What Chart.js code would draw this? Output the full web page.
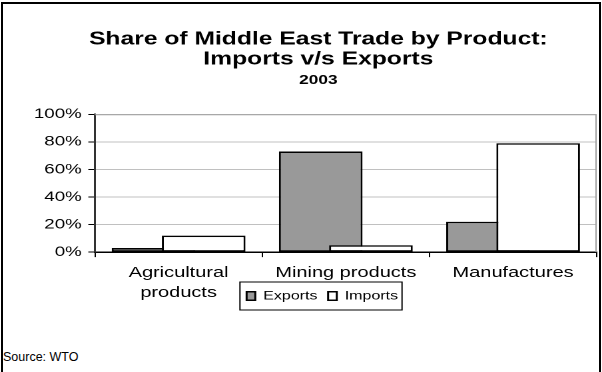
<!DOCTYPE html>
<html>
<head>
<meta charset="utf-8">
<script src="https://cdn.jsdelivr.net/npm/chart.js@4"></script>
<style>
  body { margin: 0; background: #fff; }
  #frame { position: absolute; left: 1px; top: 2px; width: 596px; height: 380px; border: 2px solid #000; }
  /* the chart is laid out narrow and widened, which gives the broad lettering */
  #box { position: absolute; left: 0; top: 0; width: 452px; height: 345px; transform: scaleX(1.3319); transform-origin: 0 0; }
  #src { position: absolute; left: 3px; top: 350px; font: 12.5px Arial, "Liberation Sans", sans-serif; color: #000; }
</style>
</head>
<body>
<div id="frame"></div>
<div id="box"><canvas id="trade"></canvas></div>
<div id="src">Source: WTO</div>
<script>
// share of Middle East trade, 2003 (percent)
var categories = [["Agricultural", "products"], "Mining products", "Manufactures"];
var exportsShare = [3, 73, 22];
var importsShare = [12, 5, 79];
var yTicks = [0, 20, 40, 60, 80, 100];

// exports sit left of the category centre, imports right, overlapping
var SHIFT = 0.15;
function place(values, dx) {
  return values.map(function (v, i) { return { x: i + dx, y: v }; });
}

Chart.defaults.font.family = 'Arial, "Liberation Sans", sans-serif';
Chart.defaults.color = '#000';

// gray outline on the top and right of the plot area
var plotFrame = {
  id: 'plotFrame',
  beforeDatasetsDraw: function (chart) {
    var a = chart.chartArea, ctx = chart.ctx;
    ctx.save();
    ctx.strokeStyle = '#a0a0a0';
    ctx.lineWidth = 1;
    ctx.beginPath();
    ctx.moveTo(a.left, a.top + 0.5);
    ctx.lineTo(a.right - 0.5, a.top + 0.5);
    ctx.lineTo(a.right - 0.5, a.bottom);
    ctx.stroke();
    ctx.restore();
  }
};

// titles and legend centred a little right of the canvas middle,
// legend tucked up beside the wrapped label and boxed
var TITLE_DX = 12.5;
var LEGEND_DX = 15.5;
var LEGEND_DY = -27;
var nudge = {
  id: 'nudge',
  afterUpdate: function (chart) {
    chart.boxes.forEach(function (b) {
      if (b.options && b.options.text !== undefined && !b.legendItems) {
        b.left += TITLE_DX;
        b.right += TITLE_DX;
      }
    });
    var lg = chart.legend;
    lg.left += LEGEND_DX;
    lg.right += LEGEND_DX;
    lg.top += LEGEND_DY;
    lg.bottom += LEGEND_DY;
    lg.legendHitBoxes.forEach(function (h) { h.left += LEGEND_DX; h.top += LEGEND_DY; });
  },
  afterDraw: function (chart) {
    var boxes = chart.legend.legendHitBoxes;
    if (!boxes || !boxes.length) return;
    var l = Infinity, t = Infinity, r = -Infinity, b = -Infinity;
    boxes.forEach(function (h) {
      l = Math.min(l, h.left); t = Math.min(t, h.top);
      r = Math.max(r, h.left + h.width); b = Math.max(b, h.top + h.height);
    });
    var ctx = chart.ctx;
    ctx.save();
    ctx.strokeStyle = '#000';
    ctx.lineWidth = 1;
    ctx.strokeRect(l - 5, t - 8, r - l + 8, b - t + 16);
    ctx.restore();
  }
};

new Chart(document.getElementById('trade'), {
  type: 'bar',
  data: {
    datasets: [{
      label: 'Exports',
      data: place(exportsShare, -SHIFT),
      backgroundColor: '#999999',
      borderColor: '#000',
      borderWidth: 1.5,
      borderSkipped: false,
      xAxisID: 'xb',
      order: 1
    }, {
      label: 'Imports',
      data: place(importsShare, SHIFT),
      backgroundColor: '#ffffff',
      borderColor: '#000',
      borderWidth: 1.5,
      borderSkipped: false,
      xAxisID: 'xb',
      order: 0
    }]
  },
  options: {
    responsive: true,
    maintainAspectRatio: false,
    animation: false,
    devicePixelRatio: 2,
    grouped: false,
    categoryPercentage: 1,
    barPercentage: 0.5 / (2 * SHIFT),
    layout: { padding: { left: 5, right: 4, top: 0, bottom: 6 } },
    plugins: {
      title: {
        display: true,
        text: ['Share of Middle East Trade by Product:', 'Imports v/s Exports'],
        font: { size: 18.5, weight: 'bold', lineHeight: 1.1 },
        padding: { top: 29, bottom: 0 }
      },
      subtitle: {
        display: true,
        text: '2003',
        font: { size: 13, weight: 'bold' },
        padding: { top: 3, bottom: 26 }
      },
      legend: {
        position: 'bottom',
        labels: {
          boxWidth: 6.5,
          boxHeight: 8.5,
          padding: 8,
          font: { size: 12 },
          sort: function (a, b) { return a.datasetIndex - b.datasetIndex; }
        }
      },
      tooltip: { enabled: false }
    },
    scales: {
      x: {
        type: 'category',
        labels: categories,
        grid: { offset: true, drawOnChartArea: false, tickLength: 5, tickColor: '#000' },
        border: { color: '#000', width: 1.5 },
        ticks: { font: { size: 15, lineHeight: 1.33 }, maxRotation: 0, autoSkip: false, padding: 6 }
      },
      xb: {
        type: 'linear',
        display: false,
        offset: false,
        min: -0.5,
        max: 2.5,
        ticks: { stepSize: 1 }
      },
      y: {
        min: 0,
        max: 100,
        afterBuildTicks: function (s) { s.ticks = yTicks.map(function (v) { return { value: v }; }); },
        afterFit: function (s) { s.width = 66.3; },
        grid: { color: '#c0c0c0', tickLength: 5, tickColor: '#000' },
        border: { color: '#333', width: 1.5 },
        ticks: { font: { size: 14 }, padding: 5, callback: function (v) { return v + '%'; } }
      }
    }
  },
  plugins: [plotFrame, nudge]
});
</script>
</body>
</html>
